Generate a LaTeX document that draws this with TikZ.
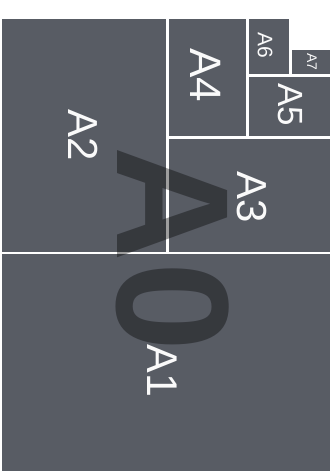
\documentclass[tikz,border=0pt]{standalone}
\usepackage{fontspec}
\setmainfont{Liberation Sans}
\definecolor{sheet}{RGB}{88,92,100}
\definecolor{labelc}{RGB}{250,250,250}
\begin{document}
\begin{tikzpicture}[x=1pt,y=-1pt,
  sheetfill/.style={fill=sheet},
  lbl/.style={text=labelc,rotate=-90,inner sep=0pt,font=\fontsize{#1}{#1}\selectfont},
  bigmark/.style={text=black,text opacity=0.38,rotate=-90,inner sep=0pt,font=\fontsize{160}{160}\selectfont\bfseries}]
\useasboundingbox (0,0) rectangle (334,471);
\fill[white] (0,0) rectangle (334,471);
% sheets
\fill[sheetfill] (2,19) rectangle (166,252);   % A2
\fill[sheetfill] (2,254) rectangle (330,471);  % A1
\fill[sheetfill] (169,139) rectangle (330,252);% A3
\fill[sheetfill] (169,19) rectangle (246,136); % A4
\fill[sheetfill] (249,19) rectangle (289,74);  % A6
\fill[sheetfill] (292,50) rectangle (330,74);  % A7
\fill[sheetfill] (249,77) rectangle (330,136); % A5
% labels
\node[lbl=42] (a2) at (83,135) {A2};
\node[lbl=42] (a3) at (252,197) {A3};
\node[lbl=43] (a1) at (162,371) {A1};
\node[lbl=44] (a4) at (206,75) {A4};
\node[lbl=35] (a5) at (290,105) {A5};
\node[lbl=21] (a6) at (265,45) {A6};
\node[lbl=14] (a7) at (312,62) {A7};
\node[bigmark] (a0) at (173,249) {A0};
\end{tikzpicture}
\end{document}
